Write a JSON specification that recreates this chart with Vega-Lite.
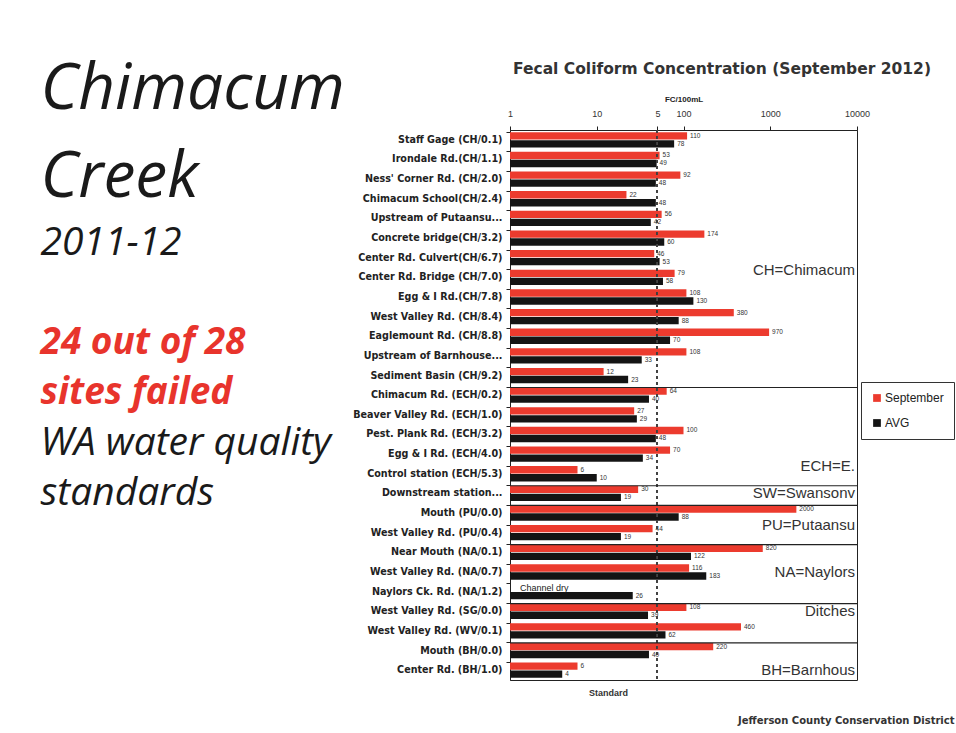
{
  "$schema": "https://vega.github.io/schema/vega-lite/v6.json",
  "background": "white",
  "padding": {"left": 40, "top": 58, "right": 0, "bottom": 5},
  "bounds": "flush",
  "spacing": 469,
  "config": {"view": {"stroke": null}, "font": "Liberation Sans"},
  "title": {"text": "Jefferson County Conservation District", "orient": "bottom", "anchor": "end", "fontSize": 10, "fontWeight": "bold", "color": "#333", "font": "DejaVu Sans", "offset": 18, "dx": 0},
  "datasets": {
    "fc": [
      {"site": "Staff Gage (CH/0.1)", "series": "September", "value": 110},
      {"site": "Staff Gage (CH/0.1)", "series": "AVG", "value": 78},
      {"site": "Irondale Rd.(CH/1.1)", "series": "September", "value": 53},
      {"site": "Irondale Rd.(CH/1.1)", "series": "AVG", "value": 49},
      {"site": "Ness' Corner Rd. (CH/2.0)", "series": "September", "value": 92},
      {"site": "Ness' Corner Rd. (CH/2.0)", "series": "AVG", "value": 48},
      {"site": "Chimacum School(CH/2.4)", "series": "September", "value": 22},
      {"site": "Chimacum School(CH/2.4)", "series": "AVG", "value": 48},
      {"site": "Upstream of Putaansu...", "series": "September", "value": 56},
      {"site": "Upstream of Putaansu...", "series": "AVG", "value": 42},
      {"site": "Concrete bridge(CH/3.2)", "series": "September", "value": 174},
      {"site": "Concrete bridge(CH/3.2)", "series": "AVG", "value": 60},
      {"site": "Center Rd. Culvert(CH/6.7)", "series": "September", "value": 46},
      {"site": "Center Rd. Culvert(CH/6.7)", "series": "AVG", "value": 53},
      {"site": "Center Rd. Bridge (CH/7.0)", "series": "September", "value": 79},
      {"site": "Center Rd. Bridge (CH/7.0)", "series": "AVG", "value": 58},
      {"site": "Egg & I Rd.(CH/7.8)", "series": "September", "value": 108},
      {"site": "Egg & I Rd.(CH/7.8)", "series": "AVG", "value": 130},
      {"site": "West Valley Rd. (CH/8.4)", "series": "September", "value": 380},
      {"site": "West Valley Rd. (CH/8.4)", "series": "AVG", "value": 88},
      {"site": "Eaglemount Rd. (CH/8.8)", "series": "September", "value": 970},
      {"site": "Eaglemount Rd. (CH/8.8)", "series": "AVG", "value": 70},
      {"site": "Upstream of Barnhouse...", "series": "September", "value": 108},
      {"site": "Upstream of Barnhouse...", "series": "AVG", "value": 33},
      {"site": "Sediment Basin (CH/9.2)", "series": "September", "value": 12},
      {"site": "Sediment Basin (CH/9.2)", "series": "AVG", "value": 23},
      {"site": "Chimacum Rd. (ECH/0.2)", "series": "September", "value": 64},
      {"site": "Chimacum Rd. (ECH/0.2)", "series": "AVG", "value": 40},
      {"site": "Beaver Valley Rd. (ECH/1.0)", "series": "September", "value": 27},
      {"site": "Beaver Valley Rd. (ECH/1.0)", "series": "AVG", "value": 29},
      {"site": "Pest. Plank Rd. (ECH/3.2)", "series": "September", "value": 100},
      {"site": "Pest. Plank Rd. (ECH/3.2)", "series": "AVG", "value": 48},
      {"site": "Egg & I Rd. (ECH/4.0)", "series": "September", "value": 70},
      {"site": "Egg & I Rd. (ECH/4.0)", "series": "AVG", "value": 34},
      {"site": "Control station (ECH/5.3)", "series": "September", "value": 6},
      {"site": "Control station (ECH/5.3)", "series": "AVG", "value": 10},
      {"site": "Downstream station...", "series": "September", "value": 30},
      {"site": "Downstream station...", "series": "AVG", "value": 19},
      {"site": "Mouth (PU/0.0)", "series": "September", "value": 2000},
      {"site": "Mouth (PU/0.0)", "series": "AVG", "value": 88},
      {"site": "West Valley Rd. (PU/0.4)", "series": "September", "value": 44},
      {"site": "West Valley Rd. (PU/0.4)", "series": "AVG", "value": 19},
      {"site": "Near Mouth (NA/0.1)", "series": "September", "value": 820},
      {"site": "Near Mouth (NA/0.1)", "series": "AVG", "value": 122},
      {"site": "West Valley Rd. (NA/0.7)", "series": "September", "value": 116},
      {"site": "West Valley Rd. (NA/0.7)", "series": "AVG", "value": 183},
      {"site": "Naylors Ck. Rd. (NA/1.2)", "series": "September", "value": null, "note": "Channel dry"},
      {"site": "Naylors Ck. Rd. (NA/1.2)", "series": "AVG", "value": 26},
      {"site": "West Valley Rd. (SG/0.0)", "series": "September", "value": 108},
      {"site": "West Valley Rd. (SG/0.0)", "series": "AVG", "value": 39},
      {"site": "West Valley Rd. (WV/0.1)", "series": "September", "value": 460},
      {"site": "West Valley Rd. (WV/0.1)", "series": "AVG", "value": 62},
      {"site": "Mouth (BH/0.0)", "series": "September", "value": 220},
      {"site": "Mouth (BH/0.0)", "series": "AVG", "value": 40},
      {"site": "Center Rd. (BH/1.0)", "series": "September", "value": 6},
      {"site": "Center Rd. (BH/1.0)", "series": "AVG", "value": 4}
    ],
    "separators": [
      {"site": "Chimacum Rd. (ECH/0.2)"},
      {"site": "Downstream station..."},
      {"site": "Mouth (PU/0.0)"},
      {"site": "Near Mouth (NA/0.1)"},
      {"site": "West Valley Rd. (SG/0.0)"},
      {"site": "Mouth (BH/0.0)"}
    ],
    "grouplabels": [
      {"label": "CH=Chimacum", "site": "Center Rd. Bridge (CH/7.0)", "at": "edge"},
      {"label": "ECH=E.", "site": "Control station (ECH/5.3)", "at": "edge"},
      {"label": "SW=Swansonv", "site": "Downstream station...", "at": "mid"},
      {"label": "PU=Putaansu", "site": "West Valley Rd. (PU/0.4)", "at": "edge"},
      {"label": "NA=Naylors", "site": "West Valley Rd. (NA/0.7)", "at": "mid"},
      {"label": "Ditches", "site": "West Valley Rd. (SG/0.0)", "at": "mid"},
      {"label": "BH=Barnhous", "site": "Center Rd. (BH/1.0)", "at": "mid"}
    ],
    "slide": [
      {"line": "Chimacum", "role": "head1"},
      {"line": "Creek", "role": "head2"},
      {"line": "2011-12", "role": "year"},
      {"line": "24 out of 28", "role": "fail"},
      {"line": "sites failed", "role": "fail"},
      {"line": "WA water quality", "role": "std"},
      {"line": "standards", "role": "std"}
    ]
  },
  "hconcat": [
    {
      "width": 1,
      "height": 300,
      "data": {"name": "slide"},
      "encoding": {
        "y": {"field": "line", "type": "ordinal", "scale": {"type": "point", "padding": 0, "domain": ["Chimacum", "Creek", "2011-12", "24 out of 28", "sites failed", "WA water quality", "standards"]}, "axis": null},
        "text": {"field": "line"}
      },
      "layer": [
        {"transform": [{"filter": "datum.role == 'head1'"}], "mark": {"type": "text", "align": "left", "baseline": "alphabetic", "font": "Open Sans", "fontStyle": "italic", "fontSize": 64, "color": "#1a1a1a", "dy": -21}},
        {"transform": [{"filter": "datum.role == 'head2'"}], "mark": {"type": "text", "align": "left", "baseline": "alphabetic", "font": "Open Sans", "fontStyle": "italic", "fontSize": 64, "color": "#1a1a1a", "dy": 17}},
        {"transform": [{"filter": "datum.role == 'year'"}], "mark": {"type": "text", "align": "left", "baseline": "alphabetic", "font": "Open Sans", "fontStyle": "italic", "fontSize": 39, "color": "#1a1a1a", "dy": 25}},
        {"transform": [{"filter": "datum.role == 'fail'"}], "mark": {"type": "text", "align": "left", "baseline": "alphabetic", "font": "Open Sans", "fontStyle": "italic", "fontWeight": "bold", "fontSize": 37, "color": "#e8342c", "dy": 74}},
        {"transform": [{"filter": "datum.role == 'std'"}], "mark": {"type": "text", "align": "left", "baseline": "alphabetic", "font": "Open Sans", "fontStyle": "italic", "fontSize": 39, "color": "#1a1a1a", "dy": 75}}
      ]
    },
    {
      "width": 347,
      "height": 550,
      "view": {"stroke": "#222", "strokeWidth": 1},
      "title": {"text": "Fecal Coliform Concentration (September 2012)", "anchor": "start", "frame": "group", "fontSize": 15.5, "fontWeight": "bold", "color": "#333", "font": "DejaVu Sans", "offset": 18, "dx": 3},
      "resolve": {"axis": {"x": "independent"}},
      "layer": [
        {
          "data": {"name": "fc"},
          "transform": [{"filter": "isValid(datum.value)"}],
          "mark": {"type": "bar"},
          "encoding": {
            "y": {"field": "site", "type": "nominal", "sort": null,
              "scale": {"paddingInner": 0.22, "paddingOuter": 0.11, "domain": ["Staff Gage (CH/0.1)", "Irondale Rd.(CH/1.1)", "Ness' Corner Rd. (CH/2.0)", "Chimacum School(CH/2.4)", "Upstream of Putaansu...", "Concrete bridge(CH/3.2)", "Center Rd. Culvert(CH/6.7)", "Center Rd. Bridge (CH/7.0)", "Egg & I Rd.(CH/7.8)", "West Valley Rd. (CH/8.4)", "Eaglemount Rd. (CH/8.8)", "Upstream of Barnhouse...", "Sediment Basin (CH/9.2)", "Chimacum Rd. (ECH/0.2)", "Beaver Valley Rd. (ECH/1.0)", "Pest. Plank Rd. (ECH/3.2)", "Egg & I Rd. (ECH/4.0)", "Control station (ECH/5.3)", "Downstream station...", "Mouth (PU/0.0)", "West Valley Rd. (PU/0.4)", "Near Mouth (NA/0.1)", "West Valley Rd. (NA/0.7)", "Naylors Ck. Rd. (NA/1.2)", "West Valley Rd. (SG/0.0)", "West Valley Rd. (WV/0.1)", "Mouth (BH/0.0)", "Center Rd. (BH/1.0)"]},
              "axis": {"title": null, "labelFont": "DejaVu Sans", "labelFontWeight": "bold", "labelFontSize": 9.6, "labelColor": "#222", "bandPosition": 0, "tickSize": 4, "tickColor": "#222", "domainColor": "#222", "labelPadding": 4, "labelLimit": 200}},
            "x": {"field": "value", "type": "quantitative", "stack": null,
              "scale": {"type": "log", "domain": [1, 10000], "nice": false},
              "axis": {"orient": "top", "values": [1, 10, 50, 100, 1000, 10000], "labelExpr": "datum.value == 50 ? '5' : format(datum.value, 'd')", "grid": false, "title": "FC/100mL", "titleFontSize": 8, "titleFontWeight": "bold", "titleColor": "#222", "titlePadding": 6, "labelFontSize": 9, "labelColor": "#333", "tickColor": "#222", "domainColor": "#222", "tickSize": 4, "labelPadding": 8, "labelFlush": false}},
            "x2": {"datum": 1},
            "yOffset": {"field": "series", "sort": ["September", "AVG"], "scale": {"paddingInner": 0.08}},
            "color": {"field": "series", "type": "nominal",
              "scale": {"domain": ["September", "AVG"], "range": ["#ec3b2e", "#141414"]},
              "legend": {"title": null, "orient": "none", "legendX": 821, "legendY": 252, "strokeColor": "#333", "fillColor": "white", "padding": 10, "symbolType": "square", "symbolSize": 60, "symbolStrokeWidth": 0, "labelFontSize": 12, "labelColor": "#222", "rowPadding": 13, "labelOffset": 2}}
          }
        },
        {
          "data": {"name": "fc"},
          "transform": [{"filter": "isValid(datum.value)"}],
          "mark": {"type": "text", "align": "left", "baseline": "middle", "dx": 3, "fontSize": 6.5, "color": "#333"},
          "encoding": {
            "y": {"field": "site", "type": "nominal", "sort": null},
            "x": {"field": "value", "type": "quantitative", "axis": null},
            "yOffset": {"field": "series", "sort": ["September", "AVG"]},
            "text": {"field": "value", "type": "quantitative"}
          }
        },
        {
          "data": {"name": "fc"},
          "transform": [{"filter": "isValid(datum.note)"}],
          "mark": {"type": "text", "align": "left", "baseline": "middle", "dx": 10, "fontSize": 9, "color": "#222"},
          "encoding": {
            "y": {"field": "site", "type": "nominal", "sort": null},
            "x": {"datum": 1, "axis": null},
            "yOffset": {"field": "series", "sort": ["September", "AVG"]},
            "text": {"field": "note"}
          }
        },
        {
          "data": {"name": "fc"},
          "mark": {"type": "rule", "color": "#444", "strokeDash": [3, 3], "strokeWidth": 1},
          "encoding": {
            "x": {"datum": 50, "axis": {"orient": "bottom", "labels": false, "ticks": false, "domain": false, "grid": false, "title": "Standard", "titleX": 98, "titleAlign": "center", "titleFontSize": 9, "titleFontWeight": "bold", "titleColor": "#333", "titlePadding": 8}}
          }
        },
        {
          "data": {"name": "separators"},
          "mark": {"type": "rule", "color": "#222", "strokeWidth": 1.2},
          "encoding": {
            "y": {"field": "site", "type": "nominal", "sort": null, "bandPosition": 0}
          }
        },
        {
          "data": {"name": "grouplabels"},
          "transform": [{"filter": "datum.at == 'edge'"}],
          "mark": {"type": "text", "align": "right", "baseline": "middle", "dx": -2, "fontSize": 15, "color": "#333"},
          "encoding": {
            "y": {"field": "site", "type": "nominal", "sort": null, "bandPosition": 0},
            "x": {"datum": 10000, "axis": null},
            "text": {"field": "label"}
          }
        },
        {
          "data": {"name": "grouplabels"},
          "transform": [{"filter": "datum.at == 'mid'"}],
          "mark": {"type": "text", "align": "right", "baseline": "middle", "dx": -2, "fontSize": 15, "color": "#333"},
          "encoding": {
            "y": {"field": "site", "type": "nominal", "sort": null},
            "x": {"datum": 10000, "axis": null},
            "text": {"field": "label"}
          }
        }
      ]
    }
  ]
}
